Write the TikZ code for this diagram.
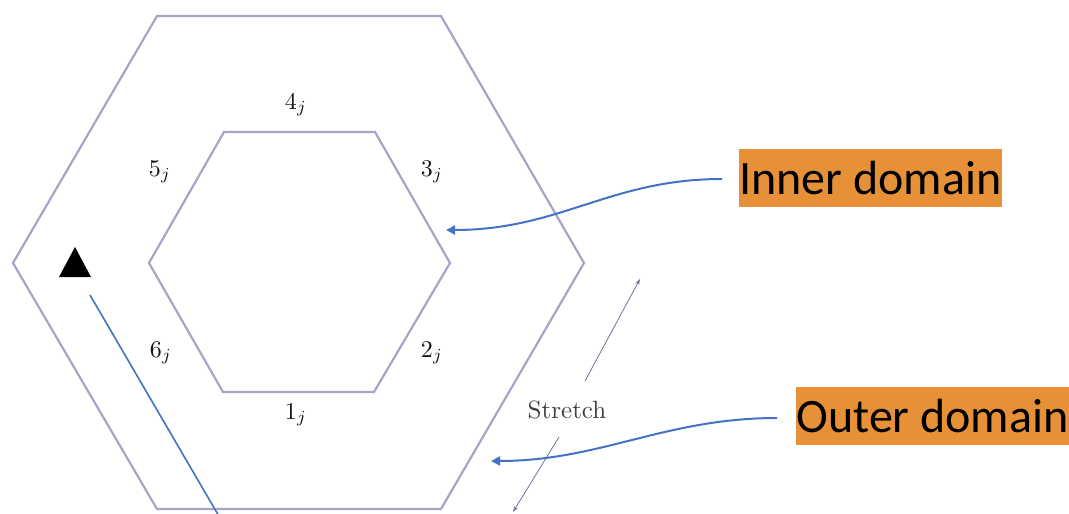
\documentclass[tikz,border=0pt]{standalone}
\usepackage{fontspec}
\newfontfamily\calib{Carlito}
\usetikzlibrary{arrows.meta}
\definecolor{hexcol}{RGB}{165,165,200}
\definecolor{offblue}{RGB}{68,114,196}
\definecolor{boxorange}{RGB}{230,145,56}
\definecolor{strcol}{RGB}{110,115,150}
\newcommand{\bigtxt}[1]{\scalebox{2.4}{#1}}
\begin{document}
\begin{tikzpicture}[x=1pt,y=-1pt,
  hexline/.style={draw=hexcol,line width=2.2pt,line join=miter},
  lab/.style={inner sep=0pt,text=black!92,font=\fontsize{10}{12}\selectfont},
  tag/.style={fill=boxorange,inner sep=0pt,minimum height=58pt,font=\calib\fontsize{48}{56}\selectfont,text=black},
  callout/.style={draw=offblue,line width=2pt,-{Triangle[length=9pt,width=9pt]}},
  stretcharrow/.style={draw=strcol,line width=0.8pt,-{Stealth[length=6pt,width=4pt]}}]
\useasboundingbox (0,0) rectangle (1069,514);
% outer hexagon
\draw[hexline] (157,16) -- (441,16) -- (584,263) -- (441,509) -- (157,509) -- (13,263) -- cycle;
% inner hexagon
\draw[hexline] (224,132) -- (375,132) -- (450,263) -- (374,392) -- (223,392) -- (149,263) -- cycle;
% edge labels
\node[lab] (l4) at (296,105) {\bigtxt{$4_j$}};
\node[lab] (l3) at (432,172) {\bigtxt{$3_j$}};
\node[lab] (l5) at (160,172) {\bigtxt{$5_j$}};
\node[lab] (l6) at (161,353) {\bigtxt{$6_j$}};
\node[lab] (l2) at (432,353) {\bigtxt{$2_j$}};
\node[lab] (l1) at (296,415) {\bigtxt{$1_j$}};
% stretch
\node[lab,text=black!75] (st) at (567,410) {\scalebox{2.5}{Stretch}};
\coordinate (su1) at (585,381);
\coordinate (su2) at (640,279);
\coordinate (sd1) at (559,437);
\coordinate (sd2) at (513,512);
\draw[stretcharrow] (su1) -- (su2);
\draw[stretcharrow] (sd1) -- (sd2);
% triangle marker
\fill[black] (59,277) -- (91,277) -- (75,247) -- cycle;
\coordinate (bl1) at (90,295);
\coordinate (bl2) at (220,518);
\draw[offblue,line width=1.6pt] (bl1) -- (bl2);
% tags
\node[tag,minimum width=263pt] (inner) at (870.5,178) {Inner domain};
\node[tag,minimum width=273pt] (outer) at (932.5,416) {Outer domain};
\coordinate (ia) at (722,179);
\coordinate (it) at (446,230);
\coordinate (oa) at (777,418);
\coordinate (ot) at (491,461);
\draw[callout] (ia) .. controls (610,179) and (560,230) .. (it);
\draw[callout] (oa) .. controls (665,418) and (600,461) .. (ot);
\end{tikzpicture}
\end{document}
